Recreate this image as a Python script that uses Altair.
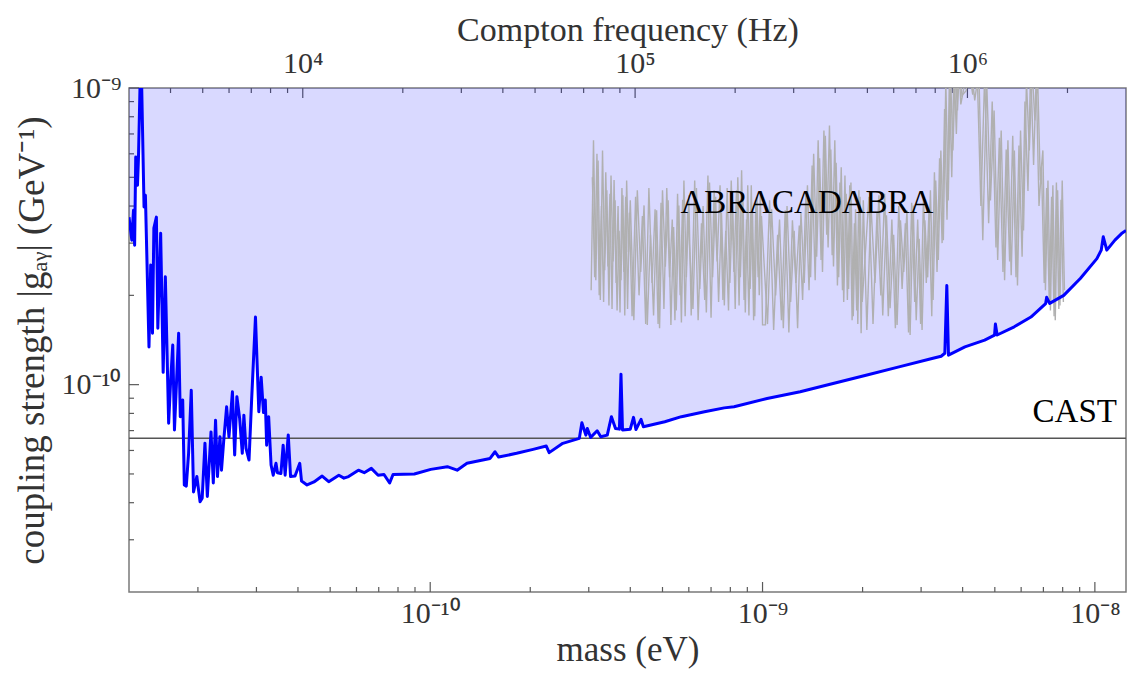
import altair as alt
import pandas as pd

# ---------------- data ----------------
HZ_PER_EV = 2.418e14                 # Compton frequency per eV of mass
FREQ_DOMAIN = [3e3, 3e6]             # Hz (top axis range)
MASS_DOMAIN = [f / HZ_PER_EV for f in FREQ_DOMAIN]
G_DOMAIN = [2e-11, 1e-9]
CAST_LIMIT = 6.6e-11

blue_mass = [
    1.2407e-11, 1.265e-11, 1.28e-11, 1.29e-11, 1.30e-11, 1.316e-11, 1.325e-11, 1.34e-11, 1.355e-11, 1.377e-11,
    1.39e-11, 1.425e-11, 1.442e-11, 1.46e-11, 1.474e-11, 1.50e-11, 1.515e-11, 1.545e-11, 1.572e-11, 1.596e-11,
    1.633e-11, 1.655e-11, 1.68e-11, 1.70e-11, 1.75e-11, 1.77e-11, 1.80e-11, 1.82e-11, 1.845e-11, 1.875e-11,
    1.91e-11, 1.94e-11, 1.985e-11, 2.03e-11, 2.06e-11, 2.10e-11, 2.135e-11, 2.19e-11, 2.225e-11, 2.26e-11,
    2.29e-11, 2.33e-11, 2.355e-11, 2.39e-11, 2.44e-11, 2.48e-11, 2.54e-11, 2.58e-11, 2.62e-11, 2.67e-11,
    2.72e-11, 2.75e-11, 2.79e-11, 2.85e-11, 2.90e-11, 2.98e-11, 3.05e-11, 3.10e-11, 3.15e-11, 3.19e-11,
    3.22e-11, 3.265e-11, 3.32e-11, 3.37e-11, 3.435e-11, 3.47e-11, 3.555e-11, 3.61e-11, 3.66e-11, 3.74e-11,
    3.80e-11, 3.92e-11, 4.05e-11, 4.10e-11, 4.26e-11, 4.47e-11, 4.73e-11, 4.95e-11, 5.31e-11, 5.50e-11,
    5.68e-11, 6.08e-11, 6.33e-11, 6.65e-11, 6.97e-11, 7.26e-11, 7.55e-11, 7.73e-11, 8.96e-11, 1.004e-10,
    1.126e-10, 1.205e-10, 1.29e-10, 1.514e-10, 1.567e-10, 1.607e-10, 1.82e-10, 2.04e-10, 2.235e-10, 2.28e-10,
    2.506e-10, 2.81e-10, 2.86e-10, 2.94e-10, 2.97e-10, 3.04e-10, 3.18e-10, 3.26e-10, 3.41e-10, 3.51e-10,
    3.61e-10, 3.71e-10, 3.75e-10, 3.79e-10, 4.00e-10, 4.09e-10, 4.16e-10, 4.31e-10, 4.38e-10, 5.08e-10,
    5.70e-10, 6.69e-10, 7.67e-10, 8.21e-10, 1.032e-9, 1.298e-9, 1.63e-9, 2.048e-9, 2.574e-9, 3.236e-9,
    3.447e-9, 3.536e-9, 3.585e-9, 3.626e-9, 4.064e-9, 4.66e-9, 4.99e-9, 5.02e-9, 5.08e-9, 5.72e-9,
    6.42e-9, 7.11e-9, 7.16e-9, 7.31e-9, 8.06e-9, 9.04e-9, 1.014e-8, 1.045e-8, 1.06e-8, 1.086e-8,
    1.149e-8, 1.203e-8, 1.2407e-8,
]
blue_g = [
    3.67e-10, 3.07e-10, 3.87e-10, 2.95e-10, 5.85e-10, 4.70e-10, 5.85e-10, 1.05e-9, 1.0e-9, 3.97e-10,
    4.35e-10, 1.34e-10, 2.53e-10, 1.49e-10, 3.37e-10, 3.67e-10, 1.55e-10, 3.24e-10, 1.10e-10, 2.31e-10,
    7.41e-11, 1.02e-10, 1.36e-10, 7.03e-11, 1.49e-10, 7.80e-11, 8.87e-11, 4.59e-11, 4.55e-11, 5.87e-11,
    9.58e-11, 4.35e-11, 4.90e-11, 4.03e-11, 4.14e-11, 6.35e-11, 4.20e-11, 6.93e-11, 4.66e-11, 7.59e-11,
    4.90e-11, 6.67e-11, 5.15e-11, 6.41e-11, 8.42e-11, 6.67e-11, 9.46e-11, 5.79e-11, 9.10e-11, 7.71e-11,
    5.87e-11, 7.89e-11, 6.11e-11, 5.57e-11, 8.75e-11, 1.69e-10, 8.10e-11, 1.06e-10, 8.05e-11, 8.87e-11,
    6.25e-11, 7.80e-11, 5.36e-11, 4.95e-11, 5.43e-11, 5.05e-11, 5.02e-11, 6.25e-11, 4.95e-11, 6.77e-11,
    4.90e-11, 4.92e-11, 5.43e-11, 4.73e-11, 4.59e-11, 4.70e-11, 4.92e-11, 4.71e-11, 4.95e-11, 4.84e-11,
    4.90e-11, 5.15e-11, 5.05e-11, 5.22e-11, 4.95e-11, 4.98e-11, 4.66e-11, 4.98e-11, 5.00e-11, 5.18e-11,
    5.29e-11, 5.15e-11, 5.43e-11, 5.64e-11, 5.94e-11, 5.70e-11, 5.87e-11, 6.05e-11, 6.21e-11, 5.90e-11,
    6.34e-11, 6.59e-11, 7.44e-11, 6.76e-11, 7.12e-11, 6.64e-11, 6.99e-11, 6.67e-11, 6.76e-11, 7.80e-11,
    7.12e-11, 7.08e-11, 1.085e-10, 7.03e-11, 7.08e-11, 7.76e-11, 7.06e-11, 7.64e-11, 7.21e-11, 7.50e-11,
    7.80e-11, 8.10e-11, 8.35e-11, 8.42e-11, 8.98e-11, 9.46e-11, 1.009e-10, 1.076e-10, 1.148e-10, 1.225e-10,
    1.247e-10, 1.276e-10, 2.16e-10, 1.257e-10, 1.34e-10, 1.413e-10, 1.468e-10, 1.60e-10, 1.47e-10, 1.567e-10,
    1.69e-10, 1.876e-10, 1.97e-10, 1.88e-10, 2.0e-10, 2.28e-10, 2.66e-10, 2.84e-10, 3.15e-10, 2.84e-10,
    3.07e-10, 3.23e-10, 3.31e-10,
]

# ABRACADABRA sensitivity (noisy trace, read as two interleaved sample sets)
abra_mass = [
    3.05e-10, 3.10e-10, 3.15e-10, 3.20e-10, 3.25e-10, 3.30e-10, 3.35e-10, 3.40e-10, 3.45e-10, 3.50e-10,
    3.55e-10, 3.60e-10, 3.65e-10, 3.70e-10, 3.75e-10, 3.80e-10, 3.85e-10, 3.90e-10, 3.95e-10, 4.00e-10,
    4.1e-10, 4.2e-10, 4.3e-10, 4.4e-10, 4.5e-10, 4.6e-10, 4.7e-10, 4.8e-10, 4.9e-10, 5.0e-10,
    5.1e-10, 5.2e-10, 5.3e-10, 5.4e-10, 5.5e-10, 5.6e-10, 5.7e-10, 5.8e-10, 5.9e-10, 6.0e-10,
    6.10e-10, 6.25e-10, 6.40e-10, 6.55e-10, 6.70e-10, 6.85e-10, 7.00e-10, 7.15e-10, 7.30e-10, 7.45e-10,
    7.60e-10, 7.75e-10, 7.90e-10, 8.05e-10, 8.20e-10, 8.35e-10, 8.50e-10, 8.65e-10, 8.80e-10, 8.95e-10,
    9.10e-10, 9.25e-10, 9.40e-10, 9.55e-10, 9.70e-10, 9.85e-10, 1.000e-9,
    1.02e-9, 1.05e-9, 1.08e-9, 1.11e-9, 1.14e-9, 1.17e-9, 1.20e-9, 1.23e-9, 1.26e-9, 1.29e-9,
    1.32e-9, 1.35e-9, 1.38e-9, 1.41e-9, 1.44e-9, 1.47e-9, 1.50e-9, 1.53e-9, 1.56e-9, 1.59e-9,
    1.62e-9, 1.65e-9, 1.68e-9, 1.71e-9, 1.74e-9, 1.77e-9, 1.80e-9, 1.83e-9, 1.86e-9, 1.89e-9,
    1.92e-9, 1.95e-9, 1.98e-9, 2.01e-9,
    2.06e-9, 2.12e-9, 2.18e-9, 2.24e-9, 2.30e-9, 2.36e-9, 2.42e-9, 2.48e-9, 2.54e-9, 2.60e-9,
    2.66e-9, 2.72e-9, 2.78e-9, 2.84e-9, 2.90e-9, 2.96e-9, 3.02e-9, 3.08e-9, 3.14e-9, 3.20e-9,
    3.26e-9, 3.32e-9, 3.38e-9, 3.44e-9, 3.50e-9, 3.56e-9, 3.62e-9, 3.68e-9, 3.74e-9, 3.80e-9,
    3.86e-9, 3.92e-9, 3.98e-9,
    4.100e-9, 4.225e-9, 4.350e-9, 4.475e-9, 4.600e-9, 4.725e-9, 4.850e-9, 4.975e-9, 5.100e-9, 5.225e-9,
    5.350e-9, 5.475e-9, 5.600e-9, 5.725e-9, 5.850e-9, 5.975e-9, 6.100e-9, 6.225e-9, 6.350e-9, 6.475e-9,
    6.600e-9, 6.725e-9, 6.850e-9, 6.975e-9, 7.100e-9, 7.225e-9, 7.350e-9, 7.475e-9, 7.600e-9, 7.725e-9,
    7.850e-9, 7.975e-9, 8.100e-9,
]
abra_g = [
    2.08e-10, 6.66e-10, 2.25e-10, 5.70e-10, 1.93e-10, 6.16e-10, 2.43e-10, 4.52e-10, 1.85e-10, 5.07e-10,
    2.60e-10, 4.18e-10, 1.78e-10, 3.30e-10, 2.25e-10, 4.35e-10, 1.71e-10, 4.88e-10, 2.80e-10, 4.18e-10,
    1.65e-10, 4.52e-10, 2.40e-10, 4.02e-10, 1.59e-10, 3.20e-10, 1.71e-10, 3.87e-10, 1.55e-10, 4.52e-10,
    2.50e-10, 4.18e-10, 1.59e-10, 3.40e-10, 1.78e-10, 4.02e-10, 1.62e-10, 4.88e-10, 2.30e-10, 4.35e-10,
    1.71e-10, 4.88e-10, 1.65e-10, 3.50e-10, 1.93e-10, 5.07e-10, 1.68e-10, 4.52e-10, 2.60e-10, 4.70e-10,
    1.93e-10, 3.30e-10, 1.78e-10, 4.88e-10, 2.40e-10, 4.52e-10, 1.85e-10, 5.28e-10, 1.93e-10, 3.60e-10,
    1.71e-10, 4.70e-10, 1.65e-10, 4.18e-10, 2.30e-10, 4.35e-10, 1.59e-10,
    1.59e-10, 4.18e-10, 1.53e-10, 3.20e-10, 1.65e-10, 3.87e-10, 1.50e-10, 3.58e-10, 2.20e-10, 3.44e-10,
    1.93e-10, 4.35e-10, 2.08e-10, 5.48e-10, 2.25e-10, 6.66e-10, 2.63e-10, 7.19e-10, 3.20e-10, 7.48e-10,
    2.73e-10, 6.66e-10, 2.16e-10, 4.80e-10, 2.08e-10, 5.07e-10, 1.93e-10, 4.70e-10, 1.65e-10, 3.50e-10,
    1.78e-10, 4.52e-10, 1.49e-10, 4.18e-10,
    1.53e-10, 4.02e-10, 2.20e-10, 4.35e-10, 1.71e-10, 3.72e-10, 1.81e-10, 3.20e-10, 1.59e-10, 3.58e-10,
    2.40e-10, 3.87e-10, 1.47e-10, 4.02e-10, 1.65e-10, 3.10e-10, 1.53e-10, 3.58e-10, 2.30e-10, 4.52e-10,
    1.93e-10, 4.88e-10, 2.63e-10, 6.16e-10, 3.07e-10, 1.06e-9, 4.18e-10, 1.10e-9, 6.16e-10, 1.15e-9,
    8.40e-10, 1.24e-9, 9.43e-10,
    9.8e-10, 1.24e-9, 9.08e-10, 1.15e-9, 3.07e-10, 1.06e-9, 4.18e-10, 8.40e-10, 2.63e-10, 7.19e-10,
    2.25e-10, 6.66e-10, 2.34e-10, 6.16e-10, 2.16e-10, 7.19e-10, 3.31e-10, 1.06e-9, 6.16e-10, 1.15e-9,
    7.77e-10, 1.10e-9, 4.88e-10, 6.16e-10, 2.08e-10, 4.88e-10, 1.78e-10, 4.70e-10, 1.65e-10, 4.52e-10,
    1.85e-10, 4.88e-10, 2.08e-10,
]
abra2_mass = [
    3.075e-10, 3.125e-10, 3.175e-10, 3.225e-10, 3.275e-10, 3.325e-10, 3.375e-10, 3.425e-10, 3.475e-10, 3.525e-10,
    3.575e-10, 3.625e-10, 3.675e-10, 3.725e-10, 3.775e-10, 3.825e-10, 3.875e-10, 3.925e-10, 3.975e-10,
    4.05e-10, 4.15e-10, 4.25e-10, 4.35e-10, 4.45e-10, 4.55e-10, 4.65e-10, 4.75e-10, 4.85e-10, 4.95e-10,
    5.05e-10, 5.15e-10, 5.25e-10, 5.35e-10, 5.45e-10, 5.55e-10, 5.65e-10, 5.75e-10, 5.85e-10, 5.95e-10,
    6.175e-10, 6.325e-10, 6.475e-10, 6.625e-10, 6.775e-10, 6.925e-10, 7.075e-10, 7.225e-10, 7.375e-10, 7.525e-10,
    7.675e-10, 7.825e-10, 7.975e-10, 8.125e-10, 8.275e-10, 8.425e-10, 8.575e-10, 8.725e-10, 8.875e-10, 9.025e-10,
    9.175e-10, 9.325e-10, 9.475e-10, 9.625e-10, 9.775e-10, 9.925e-10,
    1.035e-9, 1.065e-9, 1.095e-9, 1.125e-9, 1.155e-9, 1.185e-9, 1.215e-9, 1.245e-9, 1.275e-9, 1.305e-9,
    1.335e-9, 1.365e-9, 1.395e-9, 1.425e-9, 1.455e-9, 1.485e-9, 1.515e-9, 1.545e-9, 1.575e-9, 1.605e-9,
    1.635e-9, 1.665e-9, 1.695e-9, 1.725e-9, 1.755e-9, 1.785e-9, 1.815e-9, 1.845e-9, 1.875e-9, 1.905e-9,
    1.935e-9, 1.965e-9, 1.995e-9,
    2.09e-9, 2.15e-9, 2.21e-9, 2.27e-9, 2.33e-9, 2.39e-9, 2.45e-9, 2.51e-9, 2.57e-9, 2.63e-9,
    2.69e-9, 2.75e-9, 2.81e-9, 2.87e-9, 2.93e-9, 2.99e-9, 3.05e-9, 3.11e-9, 3.17e-9, 3.23e-9,
    3.29e-9, 3.35e-9, 3.41e-9, 3.47e-9, 3.53e-9, 3.59e-9, 3.65e-9, 3.71e-9, 3.77e-9, 3.83e-9,
    3.89e-9, 3.95e-9,
    4.16e-9, 4.29e-9, 4.41e-9, 4.54e-9, 4.66e-9, 4.79e-9, 4.91e-9, 5.04e-9, 5.16e-9, 5.29e-9,
    5.41e-9, 5.54e-9, 5.66e-9, 5.79e-9, 5.91e-9, 6.04e-9, 6.16e-9, 6.29e-9, 6.41e-9, 6.54e-9,
    6.66e-9, 6.79e-9, 6.91e-9, 7.04e-9, 7.16e-9, 7.29e-9, 7.41e-9, 7.54e-9, 7.66e-9, 7.79e-9,
    7.91e-9, 8.04e-9,
]
abra2_g = [
    5.0e-10, 2.3e-10, 6.0e-10, 2.0e-10, 4.0e-10, 1.9e-10, 5.2e-10, 2.5e-10, 4.4e-10, 1.8e-10,
    4.9e-10, 2.2e-10, 4.0e-10, 1.75e-10, 4.6e-10, 2.4e-10, 4.3e-10, 1.8e-10, 3.8e-10,
    1.7e-10, 4.3e-10, 2.0e-10, 3.7e-10, 1.6e-10, 4.6e-10, 2.2e-10, 3.9e-10, 1.6e-10, 4.1e-10,
    1.8e-10, 4.6e-10, 2.3e-10, 3.6e-10, 1.65e-10, 4.4e-10, 2.0e-10, 4.2e-10, 1.7e-10, 3.8e-10,
    1.8e-10, 4.6e-10, 2.1e-10, 4.0e-10, 1.75e-10, 4.8e-10, 2.3e-10, 4.3e-10, 1.9e-10, 3.8e-10,
    1.85e-10, 4.6e-10, 2.2e-10, 4.2e-10, 1.8e-10, 5.0e-10, 2.3e-10, 4.4e-10, 1.75e-10, 4.7e-10,
    2.1e-10, 3.9e-10, 1.7e-10, 4.3e-10, 2.0e-10, 3.7e-10,
    1.6e-10, 3.9e-10, 2.0e-10, 3.6e-10, 1.55e-10, 4.0e-10, 1.9e-10, 3.3e-10, 1.55e-10, 3.8e-10,
    2.2e-10, 4.7e-10, 2.3e-10, 6.0e-10, 2.7e-10, 5.8e-10, 2.4e-10, 6.9e-10, 2.9e-10, 6.2e-10,
    2.5e-10, 5.6e-10, 2.3e-10, 5.4e-10, 1.9e-10, 4.4e-10, 2.1e-10, 4.8e-10, 1.7e-10, 3.9e-10,
    1.6e-10, 4.3e-10, 1.9e-10,
    4.3e-10, 1.6e-10, 3.8e-10, 2.0e-10, 4.4e-10, 1.7e-10, 3.6e-10, 1.55e-10, 4.0e-10, 2.1e-10,
    3.5e-10, 1.5e-10, 4.1e-10, 1.9e-10, 3.6e-10, 1.6e-10, 4.3e-10, 2.2e-10, 3.9e-10, 1.7e-10,
    5.2e-10, 2.4e-10, 5.8e-10, 3.0e-10, 8.5e-10, 3.6e-10, 1.08e-9, 5.0e-10, 1.2e-9, 7.0e-10,
    1.3e-9, 8.8e-10,
    1.2e-9, 9.5e-10, 1.3e-9, 4.0e-10, 1.1e-9, 3.5e-10, 9.0e-10, 2.9e-10, 6.8e-10, 2.4e-10,
    6.2e-10, 2.6e-10, 6.9e-10, 2.3e-10, 6.4e-10, 2.7e-10, 9.0e-10, 4.5e-10, 1.2e-9, 5.5e-10,
    1.1e-9, 4.0e-10, 5.4e-10, 2.2e-10, 4.6e-10, 1.9e-10, 4.3e-10, 1.7e-10, 4.8e-10, 1.8e-10,
    4.2e-10, 1.9e-10,
]

# axis ticks
mass_major = [1e-10, 1e-9, 1e-8]
mass_minor = [2e-11, 3e-11, 4e-11, 5e-11, 6e-11, 7e-11, 8e-11, 9e-11,
              2e-10, 3e-10, 4e-10, 5e-10, 6e-10, 7e-10, 8e-10, 9e-10,
              2e-9, 3e-9, 4e-9, 5e-9, 6e-9, 7e-9, 8e-9, 9e-9]
g_major = [1e-10, 1e-9]
g_minor = [3e-11, 4e-11, 5e-11, 6e-11, 7e-11, 8e-11, 9e-11,
           2e-10, 3e-10, 4e-10, 5e-10, 6e-10, 7e-10, 8e-10, 9e-10]
freq_major = [1e4, 1e5, 1e6]
freq_minor = [4e3, 5e3, 6e3, 7e3, 8e3, 9e3,
              2e4, 3e4, 4e4, 5e4, 6e4, 7e4, 8e4, 9e4,
              2e5, 3e5, 4e5, 5e5, 6e5, 7e5, 8e5, 9e5, 2e6]

# annotations
abra_label = ["ABRACADABRA"]
abra_label_mass = [1.36e-9]
abra_label_g = [3.78e-10]
cast_label = ["CAST"]
cast_label_mass = [1.165e-8]

# ---------------- chart ----------------
W, H = 997, 504
FONT = "Liberation Serif"
TICK = "#5a5a5a"

X_SCALE = alt.Scale(type="log", domain=MASS_DOMAIN, nice=False)
Y_SCALE = alt.Scale(type="log", domain=G_DOMAIN, nice=False)
F_SCALE = alt.Scale(type="log", domain=FREQ_DOMAIN, nice=False)

X_AXIS = alt.Axis(
    values=mass_major, title="mass (eV)", ticks=False, domain=False, grid=False,
    labelExpr="datum.value < 3e-10 ? '10⁻¹⁰' : (datum.value < 3e-9 ? '10⁻⁹' : '10⁻⁸')",
    labelFontSize=30, titleFontSize=35, labelPadding=6,
    titleY=68, titleBaseline="alphabetic",
)
Y_AXIS = alt.Axis(
    values=g_major, title="coupling strength |gₐᵧ| (GeV⁻¹)", ticks=False, domain=False, grid=False,
    labelExpr="datum.value < 3e-10 ? '10⁻¹⁰' : '10⁻⁹'",
    labelFontSize=30, titleFontSize=37, labelPadding=8, titlePadding=10,
)
TOP_AXIS = alt.Axis(
    orient="top", values=freq_major, title="Compton frequency (Hz)", ticks=False, domain=False,
    grid=False,
    labelExpr="datum.value < 3e4 ? '10⁴' : (datum.value < 3e5 ? '10⁵' : '10⁶')",
    labelFontSize=30, titleFontSize=34, labelPadding=10,
    titleY=-48, titleBaseline="alphabetic",
)


def xm():
    return alt.X("mass:Q", scale=X_SCALE, axis=X_AXIS)


def yg():
    return alt.Y("g:Q", scale=Y_SCALE, axis=Y_AXIS)


blue_df = pd.DataFrame({"mass": blue_mass, "g": blue_g, "top": [G_DOMAIN[1]] * len(blue_mass)})
abra_df = pd.DataFrame({"mass": abra_mass, "g": abra_g})
abra2_df = pd.DataFrame({"mass": abra2_mass, "g": abra2_g})

# top (frequency) ticks
top_major = alt.Chart(pd.DataFrame({"freq": freq_major})).mark_rule(color=TICK, strokeWidth=1.2).encode(
    x=alt.X("freq:Q", scale=F_SCALE, axis=TOP_AXIS), y=alt.value(0), y2=alt.value(10))
top_minor = alt.Chart(pd.DataFrame({"freq": freq_minor})).mark_rule(color=TICK, strokeWidth=1.2).encode(
    x=alt.X("freq:Q", scale=F_SCALE, axis=TOP_AXIS), y=alt.value(0), y2=alt.value(5))
top_group = alt.layer(top_major, top_minor)

# bottom / left ticks
bot_major = alt.Chart(pd.DataFrame({"mass": mass_major})).mark_rule(color=TICK, strokeWidth=1.2).encode(
    x=xm(), y=alt.value(H), y2=alt.value(H - 10))
bot_minor = alt.Chart(pd.DataFrame({"mass": mass_minor})).mark_rule(color=TICK, strokeWidth=1.2).encode(
    x=xm(), y=alt.value(H), y2=alt.value(H - 5))
left_major = alt.Chart(pd.DataFrame({"g": g_major})).mark_rule(color=TICK, strokeWidth=1.2).encode(
    y=yg(), x=alt.value(0), x2=alt.value(10))
left_minor = alt.Chart(pd.DataFrame({"g": g_minor})).mark_rule(color=TICK, strokeWidth=1.2).encode(
    y=yg(), x=alt.value(0), x2=alt.value(5))

fill = alt.Chart(blue_df).mark_area(color="#0000ff", fillOpacity=0.15, clip=True).encode(
    x=xm(), y=yg(), y2=alt.Y2("top:Q"))

abra_line = alt.Chart(abra_df).mark_line(color="#b0b0b0", strokeWidth=1.4, clip=True).encode(
    x=xm(), y=yg())
abra_line2 = alt.Chart(abra2_df).mark_line(color="#b0b0b0", strokeWidth=1.4, clip=True).encode(
    x=xm(), y=yg())

cast_rule = alt.Chart(pd.DataFrame({"g": [CAST_LIMIT]})).mark_rule(color="#555555", strokeWidth=1.4).encode(
    y=yg())

blue_line = alt.Chart(blue_df).mark_line(color="#0000ff", strokeWidth=3, clip=True,
                                         strokeJoin="round").encode(x=xm(), y=yg())

abra_text = alt.Chart(pd.DataFrame({"mass": abra_label_mass, "g": abra_label_g, "t": abra_label})).mark_text(
    font=FONT, fontSize=33, color="#000000", align="center", baseline="alphabetic").encode(
    x=xm(), y=yg(), text="t:N")

cast_text = alt.Chart(pd.DataFrame({"mass": cast_label_mass, "g": [CAST_LIMIT], "t": cast_label})).mark_text(
    font=FONT, fontSize=33, color="#000000", align="right", baseline="alphabetic", dy=-16).encode(
    x=xm(), y=yg(), text="t:N")

main_group = alt.layer(bot_major, bot_minor, left_major, left_minor, fill, abra_line, abra_line2,
                       cast_rule, blue_line, abra_text, cast_text)

chart = alt.layer(top_group, main_group).resolve_scale(x="independent").properties(
    width=W, height=H,
    padding={"left": 121, "top": 80, "right": 2, "bottom": 77},
    autosize=alt.AutoSizeParams(type="none"),
    background="white",
).configure_view(
    stroke="#7a7a7a", strokeWidth=1.5
).configure_axis(
    labelFont=FONT, titleFont=FONT, labelColor="#333333", titleColor="#333333",
    titleFontWeight="normal",
)

chart.save("out.html", embed_options={"renderer": "svg", "actions": False})
